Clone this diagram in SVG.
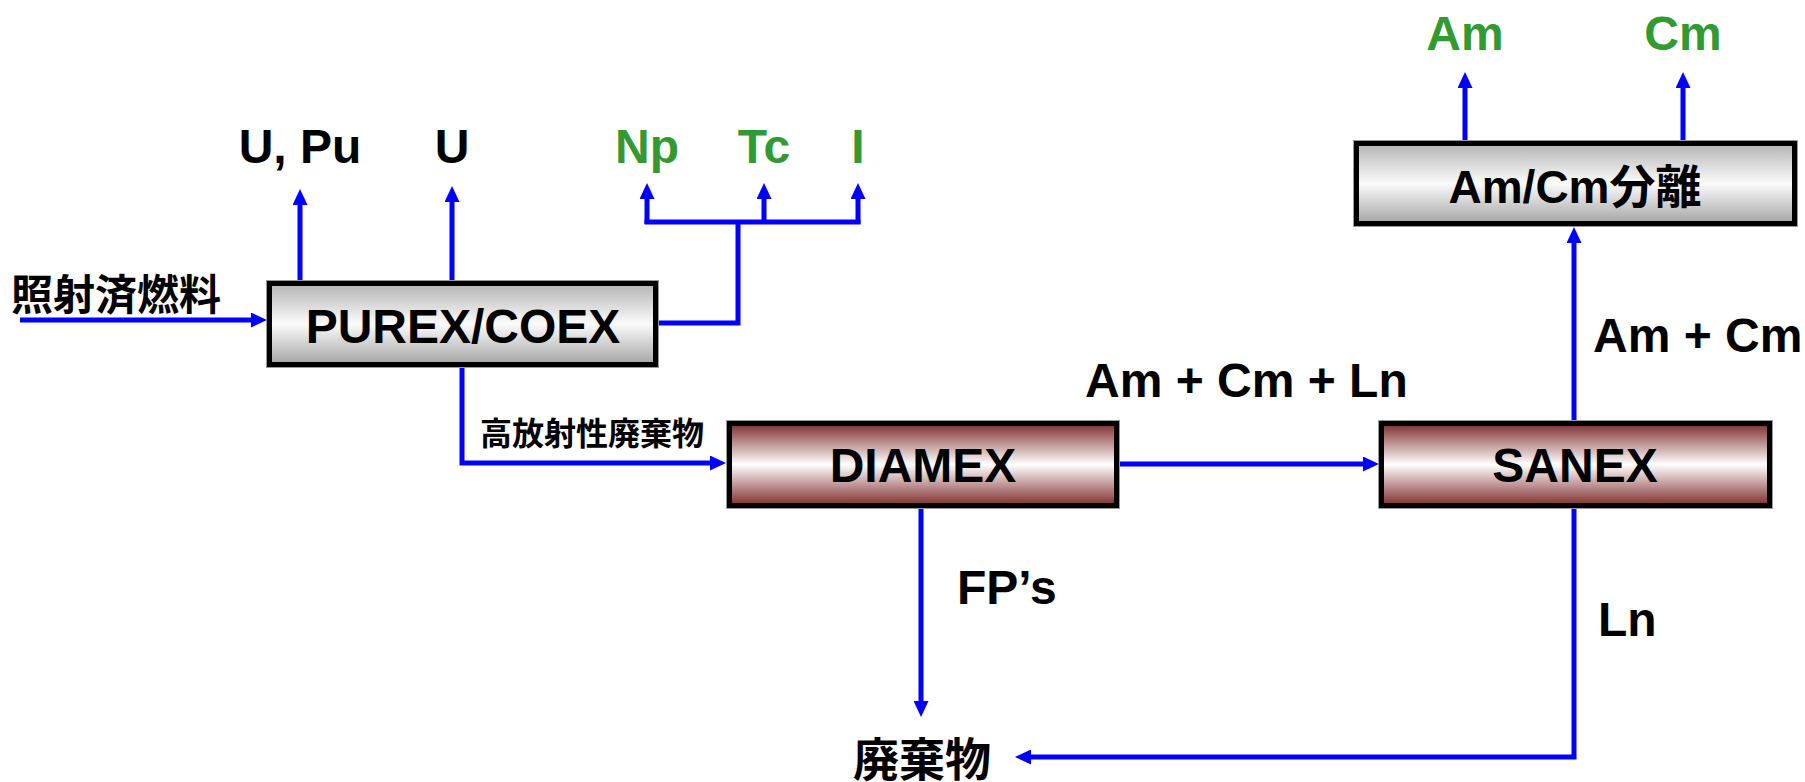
<svg xmlns="http://www.w3.org/2000/svg" width="1805" height="782" viewBox="0 0 1805 782">
<defs>
<linearGradient id="gGray" x1="0" y1="0" x2="0" y2="1">
<stop offset="0" stop-color="#b4b4b4"/>
<stop offset="0.5" stop-color="#fbfbfb"/>
<stop offset="1" stop-color="#a4a4a4"/>
</linearGradient>
<linearGradient id="gRed" x1="0" y1="0" x2="0" y2="1">
<stop offset="0" stop-color="#7e2c2c"/>
<stop offset="0.5" stop-color="#ffffff"/>
<stop offset="1" stop-color="#7e2c2c"/>
</linearGradient>
<marker id="arr" markerUnits="userSpaceOnUse" markerWidth="16" markerHeight="15" refX="0" refY="7.5" orient="auto">
<path d="M0,0 L16,7.5 L0,15 z" fill="#0000ff"/>
</marker>
<style>
.box{stroke:#000;stroke-width:5}
.outer{fill:none;stroke:#9a9a9a;stroke-width:1}
.gray{fill:url(#gGray)}
.red{fill:url(#gRed)}
.t{font-family:"Liberation Sans",Arial,"Noto Sans CJK JP",sans-serif;font-weight:bold;font-size:48px;fill:#000}
.g{fill:#339933}
.j{font-family:"Liberation Sans",Arial,"Noto Sans CJK JP",sans-serif;font-weight:bold;fill:#000}
.c{text-anchor:middle}
.ln{fill:none;stroke:#0000ff;stroke-width:5}
.a{marker-end:url(#arr)}
</style>
</defs>
<g id="connectors">
<path class="ln a" d="M20,320 H251"/>
<path class="ln a" d="M300,281 V205"/>
<path class="ln a" d="M452,281 V202"/>
<path class="ln" d="M658,323 H738 V222"/>
<path class="ln" d="M644.5,222 H860.5"/>
<path class="ln a" d="M647,224 V199"/>
<path class="ln a" d="M764,224 V199"/>
<path class="ln a" d="M858,224 V199"/>
<path class="ln a" d="M462,367 V463 H710"/>
<path class="ln a" d="M1119,464 H1363"/>
<path class="ln a" d="M921,508 V701"/>
<path class="ln a" d="M1574,508 V757 H1031"/>
<path class="ln a" d="M1574,421 V243"/>
<path class="ln a" d="M1465,142 V88"/>
<path class="ln a" d="M1683,142 V88"/>
</g>
<g id="purex">
<rect class="box gray" x="269.5" y="283.5" width="386" height="81"/>
<rect class="outer" x="266.5" y="280.5" width="392" height="87"/>
<text class="t c" x="463" y="343">PUREX/COEX</text>
</g>
<g id="diamex">
<rect class="box red" x="729.5" y="423.5" width="387" height="82"/>
<rect class="outer" x="726.5" y="420.5" width="393" height="88"/>
<text class="t c" x="923" y="482">DIAMEX</text>
</g>
<g id="sanex">
<rect class="box red" x="1381.5" y="423.5" width="388" height="82"/>
<rect class="outer" x="1378.5" y="420.5" width="394" height="88"/>
<text class="t c" x="1575" y="482">SANEX</text>
</g>
<g id="amcm">
<rect class="box gray" x="1356.5" y="143.5" width="438" height="80"/>
<rect class="outer" x="1353.5" y="140.5" width="444" height="86"/>
<text class="j c" x="1575" y="203" font-size="46">Am/Cm分離</text>
</g>
<g id="labels">
<text class="t c" x="300" y="163">U, Pu</text>
<text class="t c" x="452" y="163">U</text>
<text class="t c g" x="647" y="163">Np</text>
<text class="t c g" x="764" y="163">Tc</text>
<text class="t c g" x="858" y="163">I</text>
<text class="t c g" x="1465" y="50">Am</text>
<text class="t c g" x="1683" y="50">Cm</text>
<text class="j" x="11" y="310" font-size="42">照射済燃料</text>
<text class="j" x="480" y="445" font-size="32">高放射性廃棄物</text>
<text class="t" x="1085" y="397">Am + Cm + Ln</text>
<text class="t" x="1593" y="352">Am + Cm</text>
<text class="t" x="957" y="604">FP’s</text>
<text class="t" x="1598" y="636">Ln</text>
<text class="j" x="853" y="776" font-size="46">廃棄物</text>
</g>
</svg>
